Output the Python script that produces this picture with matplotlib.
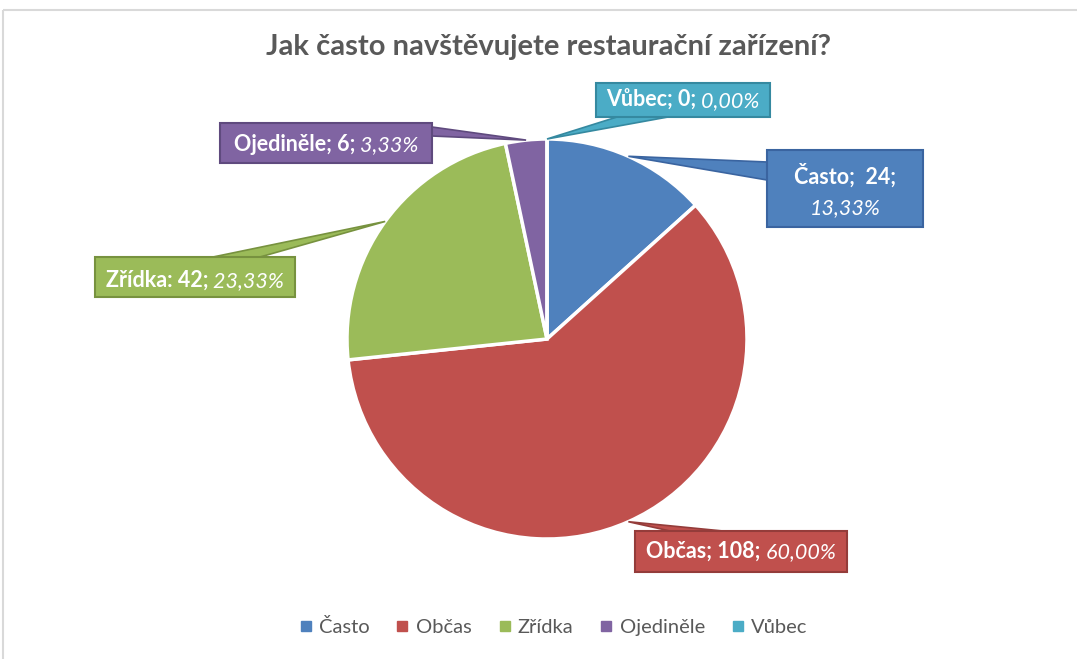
import matplotlib
matplotlib.use("Agg")
import matplotlib.pyplot as plt
from matplotlib.patches import Rectangle, Polygon
from matplotlib.lines import Line2D
import numpy as np

# ---- data ----
categories = ["Často", "Občas", "Zřídka", "Ojediněle", "Vůbec"]
counts = [24, 108, 42, 6, 0]
percent_labels = ["13,33%", "60,00%", "23,33%", "3,33%", "0,00%"]
title = "Jak často navštěvujete restaurační zařízení?"

colors = ["#4F81BD", "#C0504D", "#9BBB59", "#8064A2", "#4BACC6"]
edge_colors = ["#3A64A0", "#943C3A", "#77923F", "#5F4A7E", "#3589A0"]

W, H = 1077, 659
FONT = ["Lato", "DejaVu Sans"]
plt.rcParams["font.family"] = FONT

fig = plt.figure(figsize=(W / 100, H / 100), dpi=100)
fig.patch.set_facecolor("white")

# pie geometry (pixels)
CX, CY, R = 547, 339, 200
ax = fig.add_axes([(CX - R) / W, (H - CY - R) / H, 2 * R / W, 2 * R / H])
wedges, _ = ax.pie(counts, colors=colors, startangle=90, counterclock=False,
                   wedgeprops=dict(edgecolor="white", linewidth=2.5))
ax.set_xlim(-1, 1)
ax.set_ylim(-1, 1)

# overlay in pixel coords
ov = fig.add_axes([0, 0, 1, 1], zorder=5)
ov.set_xlim(0, W)
ov.set_ylim(H, 0)
ov.axis("off")
ov.patch.set_alpha(0)

# outer chart frame
ov.add_patch(Rectangle((3, 10), W + 20, H + 20, fill=False, ec="#D9D9D9", lw=1.5))

ov.text(549, 55, title, ha="center", va="baseline", fontsize=21,
        fontweight="bold", color="#595959")

# label layout: box (x0, y0, x1, y1), text center x, baselines, pointer base pts
layout = {
    "Často": dict(box=(767, 150, 923, 227), cx=845, lines=[184, 214],
                  base=[(767, 162), (767, 180)]),
    "Občas": dict(box=(635, 531, 847, 572), cx=741, lines=[558],
                  base=[(670, 531), (723, 531)]),
    "Zřídka": dict(box=(95, 257, 295, 297), cx=195, lines=[287],
                   base=[(213, 257), (260, 257)]),
    "Ojediněle": dict(box=(220, 123, 432, 163), cx=326, lines=[151],
                      base=[(432, 127), (432, 136)]),
    "Vůbec": dict(box=(596, 83, 770, 117), cx=683, lines=[107],
                  base=[(617, 117), (668, 117)]),
}

renderer = fig.canvas.get_renderer()
FS = 15.5


def place_line(cx, y, segments):
    texts = []
    widths = []
    for s, w, st in segments:
        t = ov.text(0, y, s, fontsize=FS, fontweight=w, style=st, color="white",
                    ha="left", va="baseline", zorder=10)
        widths.append(t.get_window_extent(renderer).width)
        texts.append(t)
    x = cx - sum(widths) / 2
    for t, w in zip(texts, widths):
        t.set_x(x)
        x += w


for i, (cat, cnt, pct) in enumerate(zip(categories, counts, percent_labels)):
    L = layout[cat]
    w = wedges[i]
    mid = np.deg2rad((w.theta1 + w.theta2) / 2)
    tip = (CX + R * np.cos(mid), CY - R * np.sin(mid))
    ov.add_patch(Polygon([tip, L["base"][0], L["base"][1]], closed=True,
                         fc=colors[i], ec=edge_colors[i], lw=1.2, zorder=6))
    x0, y0, x1, y1 = L["box"]
    ov.add_patch(Rectangle((x0, y0), x1 - x0, y1 - y0, fc=colors[i],
                           ec=edge_colors[i], lw=1.5, zorder=7))
    sep = ":" if cat == "Zřídka" else ";"
    if cat == "Často":
        place_line(L["cx"], L["lines"][0], [(f"{cat};  {cnt};", "bold", "normal")])
        place_line(L["cx"], L["lines"][1], [(pct, "normal", "italic")])
    else:
        place_line(L["cx"], L["lines"][0],
                   [(f"{cat}{sep} {cnt};", "bold", "normal"),
                    (f" {pct}", "normal", "italic")])

handles = [Line2D([], [], marker="s", linestyle="none", markersize=7.5,
                  markerfacecolor=c, markeredgecolor=c) for c in colors]
leg = fig.legend(handles, categories, loc="center", ncol=5, frameon=False,
                 bbox_to_anchor=(552 / W, 1 - 627 / H), fontsize=14.5,
                 handletextpad=0.2, columnspacing=1.2, handlelength=0.9)
for t in leg.get_texts():
    t.set_color("#595959")

fig.savefig("out.png", dpi=100, facecolor="white")
